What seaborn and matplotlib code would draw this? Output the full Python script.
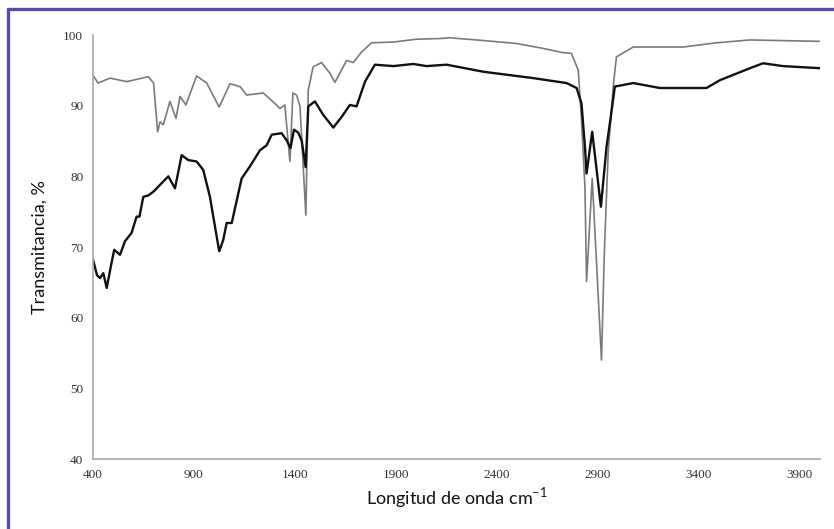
import numpy as np
import pandas as pd
import matplotlib
matplotlib.use("Agg")
import matplotlib.pyplot as plt
from matplotlib.lines import Line2D
import seaborn as sns

# --- data (wavenumber cm-1, transmittance %) ---
gray_wn = [400, 425, 484, 567, 674, 700, 720, 732, 748, 781, 811, 831, 860, 913, 963,
           1025, 1078, 1128, 1161, 1243, 1301, 1326, 1350, 1375, 1390, 1408, 1425, 1454,
           1466, 1490, 1532, 1573, 1598, 1656, 1689, 1730, 1780, 1887, 2000, 2118, 2167,
           2299, 2497, 2629, 2728, 2769, 2803, 2819, 2836, 2844, 2872, 2918, 2932, 2951,
           2976, 2992, 3075, 3323, 3488, 3653, 4000]
gray_t = [94.3, 93.2, 93.9, 93.4, 94.1, 93.2, 86.3, 87.7, 87.3, 90.6, 88.2, 91.3, 90.1, 94.2, 93.2,
          89.8, 93.1, 92.7, 91.5, 91.8, 90.3, 89.6, 90.1, 82.1, 91.8, 91.5, 89.9, 74.5,
          92.2, 95.5, 96.1, 94.6, 93.3, 96.4, 96.1, 97.6, 98.9, 99.0, 99.4, 99.5, 99.6,
          99.3, 98.8, 98.1, 97.5, 97.4, 95.0, 88.0, 78.5, 65.1, 79.7, 54.0, 69.2, 83.3,
          92.7, 96.9, 98.3, 98.3, 98.9, 99.3, 99.1]

black_wn = [400, 420, 435, 451, 468, 490, 505, 534, 558, 591, 616, 630, 649, 674, 698, 715,
            732, 773, 806, 839, 872, 913, 946, 979, 1004, 1025, 1045, 1062, 1087, 1136,
            1177, 1227, 1260, 1285, 1334, 1359, 1378, 1395, 1416, 1433, 1453, 1466, 1499,
            1540, 1590, 1631, 1672, 1705, 1747, 1796, 1887, 1986, 2052, 2151, 2333, 2580,
            2745, 2795, 2819, 2836, 2844, 2872, 2915, 2943, 2962, 2984, 3075, 3207, 3438,
            3504, 3653, 3718, 3817, 4000]
black_t = [68.2, 66.0, 65.6, 66.3, 64.2, 67.5, 69.6, 68.9, 70.8, 72.0, 74.3, 74.3, 77.1, 77.3, 77.8, 78.3,
           78.8, 80.0, 78.3, 83.0, 82.3, 82.1, 80.9, 77.1, 72.9, 69.4, 71.0, 73.4, 73.4, 79.7,
           81.4, 83.7, 84.4, 85.9, 86.1, 85.1, 84.0, 86.6, 86.2, 85.1, 81.3, 89.9, 90.6,
           88.7, 86.9, 88.4, 90.1, 89.9, 93.4, 95.8, 95.6, 95.9, 95.6, 95.8, 94.8, 93.9,
           93.2, 92.5, 90.3, 84.2, 80.4, 86.3, 75.7, 84.2, 88.0, 92.7, 93.2, 92.5, 92.5,
           93.6, 95.3, 96.0, 95.6, 95.3]

x_ticks = [400, 900, 1400, 1900, 2400, 2900, 3400, 3900]
y_ticks = [40, 50, 60, 70, 80, 90, 100]

sns.set_theme(style="white")
plt.rcParams['font.family'] = ['Lato', 'DejaVu Sans']
plt.rcParams['mathtext.fontset'] = 'custom'
plt.rcParams['mathtext.rm'] = 'Lato'

fig = plt.figure(figsize=(8.34, 5.29), dpi=100)
ax = fig.add_axes([93/834, 1-459/529, (820-93)/834, (459-35)/529])

df_gray = pd.DataFrame({"wn": gray_wn, "T": gray_t})
df_black = pd.DataFrame({"wn": black_wn, "T": black_t})
sns.lineplot(data=df_gray, x="wn", y="T", ax=ax, color="#7a7a7a", linewidth=1.2, sort=False)
sns.lineplot(data=df_black, x="wn", y="T", ax=ax, color="#111111", linewidth=1.7, sort=False)

ax.set_xlim(400, 4000)
ax.set_ylim(40, 100)
ax.set_xticks(x_ticks)
ax.set_yticks(y_ticks)
ax.set_xticklabels([str(v) for v in x_ticks], family='Liberation Serif', fontsize=9.5, color='#333333')
ax.set_yticklabels([str(v) for v in y_ticks], family='Liberation Serif', fontsize=9.5, color='#333333')
ax.tick_params(axis='both', length=0, pad=7)
for s in ['top', 'right']:
    ax.spines[s].set_visible(False)
for s in ['left', 'bottom']:
    ax.spines[s].set_color('#a8a8a8')
    ax.spines[s].set_linewidth(1.2)

ax.set_xlabel("Longitud de onda cm$^{\\mathregular{-1}}$", fontsize=13, color='#111111', labelpad=3)
ax.set_ylabel("Transmitancia, %", fontsize=13, color='#111111', labelpad=11)

# purple frame (left and top edges visible in reference)
fc = '#5a4ca6'
fig.add_artist(Line2D([8/834, 8/834], [0, 1-9/529], transform=fig.transFigure, color=fc, linewidth=2.4))
fig.add_artist(Line2D([8/834, 1], [1-9/529, 1-9/529], transform=fig.transFigure, color=fc, linewidth=2.4))

fig.savefig("out.png", dpi=100)
